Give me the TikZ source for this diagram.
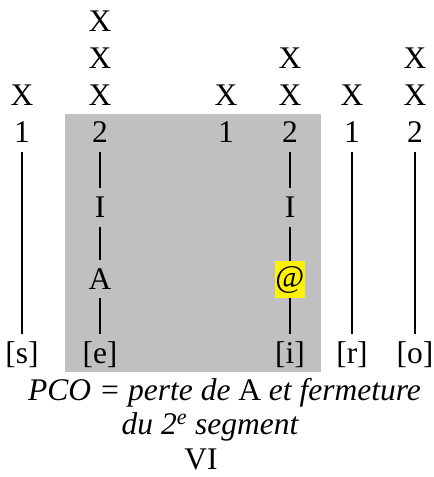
\documentclass[tikz,border=0pt]{standalone}
\usepackage{fontspec}
\setmainfont{Liberation Serif}
\definecolor{panelgray}{RGB}{192,192,192}
\begin{document}
\begin{tikzpicture}[x=1pt,y=-1pt,
  txt/.style={inner sep=0pt, font=\fontsize{31.5}{36}\selectfont},
  dig/.style={txt, minimum height=39pt},
  ph/.style={txt, minimum height=42pt},
  seg/.style={txt, minimum height=39pt},
  segA/.style={txt, minimum height=38pt},
  hl/.style={txt, fill=yellow, minimum width=30pt, minimum height=37pt},
  link/.style={line width=2pt},
  capt/.style={inner sep=0pt, font=\fontsize{31.5}{36}\selectfont\itshape, anchor=base}]
\useasboundingbox (0,0) rectangle (434,477);
\fill[panelgray] (65,114) rectangle (321,372);
% X rows
\node[txt] (x21) at (100,21.5) {X};
\node[txt] (x22) at (100,58) {X};
\node[txt] (x42) at (290,58) {X};
\node[txt] (x62) at (415,58) {X};
\node[txt] (x13) at (22,95) {X};
\node[txt] (x23) at (100,95) {X};
\node[txt] (x33) at (226,95) {X};
\node[txt] (x43) at (290,95) {X};
\node[txt] (x53) at (352,95) {X};
\node[txt] (x63) at (415,95) {X};
% digits
\node[dig] (d1) at (22,132.5) {1};
\node[dig] (d2) at (100,132.5) {2};
\node[dig] (d3) at (226,132.5) {1};
\node[dig] (d4) at (290,132.5) {2};
\node[dig] (d5) at (352,132.5) {1};
\node[dig] (d6) at (415,132.5) {2};
% segments
\node[seg] (i2) at (100,207.5) {I};
\node[seg] (i4) at (290,207.5) {I};
\node[segA] (a2) at (100,279) {A};
\node[hl] (at4) at (290,279.5) {@};
% phonemes
\node[ph] (s) at (22,355) {[s]};
\node[ph] (e) at (100,355) {[e]};
\node[ph] (i) at (290,355) {[i]};
\node[ph] (r) at (352,355) {[r]};
\node[ph] (o) at (415,355) {[o]};
% links
\draw[link] (d1) -- (s);
\draw[link] (d2) -- (i2);
\draw[link] (i2) -- (a2);
\draw[link] (a2) -- (e);
\draw[link] (d4) -- (i4);
\draw[link] (i4) -- (at4);
\draw[link] (at4) -- (i);
\draw[link] (d5) -- (r);
\draw[link] (d6) -- (o);
% caption
\node[capt] (c1) at (224.5,400) {PCO = perte de \textup{A} et fermeture};
\node[capt] (c2) at (210,434) {du 2\textsuperscript{e} segment};
\node[txt, anchor=base] (c3) at (201,469) {VI};
\end{tikzpicture}
\end{document}
